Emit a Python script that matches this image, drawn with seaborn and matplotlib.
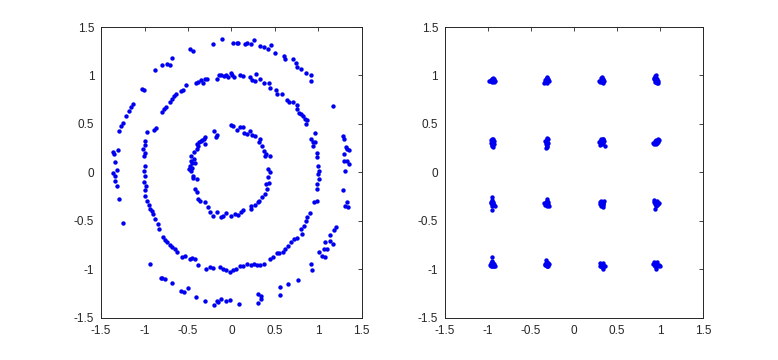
import matplotlib
matplotlib.use("Agg")
import matplotlib.pyplot as plt
import seaborn as sns
import pandas as pd

# ---------------- data: left panel (three noisy rings) ----------------
outer_x = [-0.11, -0.21, 0.02, 0.06, 0.08, 0.16, 0.18, 0.22, 0.26, 0.33, 0.37, 0.42, 0.46, 0.50,
           0.60, 0.62, 0.71, 0.74, 0.76, 0.80, 0.86, 0.91, 0.92, 1.165,
           1.28, 1.30, 1.32, 1.33, 1.35, 1.29, 1.30, 1.33, 1.35, 1.31,
           1.28, 1.33, 1.31, 1.34, 1.20, 1.18, 1.14, 1.17, 1.13, 1.08, 1.06, 1.10, 1.01, 1.04, 1.08,
           0.92, 0.93, 0.77, 0.65, 0.56, 0.56, 0.31, 0.34, 0.30, 0.34,
           0.085, -0.02, -0.06, -0.115, -0.15, -0.17, -0.20, -0.30,
           -0.41, -0.50, -0.55, -0.58, -0.69, -0.77, -0.80, -0.815, -0.94, -1.25,
           -1.29, -1.32, -1.335, -1.335, -1.365, -1.32, -1.34, -1.355, -1.36, -1.31,
           -1.29, -1.27, -1.25, -1.21, -1.18, -1.16, -1.13, -1.03, -1.01,
           -0.88, -0.80, -0.74, -0.71, -0.68, -0.48, -0.44]
outer_y = [1.375, 1.32, 1.33, 1.33, 1.34, 1.32, 1.34, 1.32, 1.365, 1.30, 1.29, 1.27, 1.31, 1.235,
           1.205, 1.17, 1.17, 1.13, 1.09, 1.07, 1.03, 1.01, 0.94, 0.69,
           0.375, 0.34, 0.26, 0.24, 0.23, 0.19, 0.12, 0.12, 0.085, 0.02,
           -0.18, -0.31, -0.35, -0.36, -0.56, -0.59, -0.65, -0.74, -0.71, -0.72, -0.785, -0.785, -0.82, -0.86, -0.87,
           -0.945, -1.01, -1.11, -1.15, -1.18, -1.26, -1.25, -1.27, -1.35, -1.31,
           -1.355, -1.32, -1.33, -1.31, -1.34, -1.33, -1.365, -1.33,
           -1.28, -1.19, -1.235, -1.22, -1.14, -1.10, -1.085, -1.085, -0.94, -0.52,
           -0.27, -0.14, -0.085, -0.035, -0.01, 0.03, 0.11, 0.19, 0.21, 0.23,
           0.43, 0.48, 0.51, 0.58, 0.63, 0.675, 0.71, 0.86, 0.85,
           1.06, 1.11, 1.12, 1.11, 1.18, 1.27, 1.25]

middle_x = [-0.17, -0.14, -0.115, -0.09, -0.06, -0.04, -0.01, 0.01, 0.03, 0.10, 0.13, 0.21, 0.235, 0.27,
            0.28, 0.33, 0.37, 0.43, 0.44, 0.51, 0.53, 0.58, 0.635, 0.665, 0.71, 0.75, 0.76, 0.78, 0.80,
            0.82, 0.85, 0.87, 0.86,
            0.96, 0.915, 0.935, 0.965, 0.94, 0.98, 0.99, 1.00, 1.01, 1.00, 1.01, 0.99, 0.98, 0.955, 0.98,
            0.90, 0.865, 0.86, 0.83, 0.80, 0.81, 0.76, 0.72, 0.69, 0.65, 0.62, 0.59, 0.55, 0.52, 0.48,
            0.44, 0.37, 0.33, 0.29, 0.26, 0.22, 0.18, 0.13, 0.10, 0.05, 0.02, -0.02, -0.06, -0.10,
            -0.135, -0.21, -0.25, -0.29, -0.385, -0.42, -0.45, -0.48, -0.53, -0.565, -0.63, -0.65,
            -0.68, -0.71, -0.74, -0.77, -0.79, -0.83, -0.85, -0.88, -0.90, -0.92, -0.94, -0.95, -0.97,
            -0.99, -1.00, -0.98, -1.01, -1.00, -1.01, -0.99, -1.01, -0.99, -1.02, -0.99, -1.00, -0.97,
            -0.865, -0.89, -0.80, -0.78, -0.75, -0.71, -0.69, -0.665, -0.635, -0.58, -0.56, -0.52,
            -0.41, -0.385, -0.35, -0.33, -0.30, -0.28]
middle_y = [0.965, 1.00, 1.005, 0.99, 1.01, 0.98, 1.025, 1.00, 0.98, 1.00, 0.99, 0.98, 0.955, 0.94,
            1.02, 0.96, 0.92, 0.92, 0.87, 0.85, 0.81, 0.81, 0.75, 0.73, 0.73, 0.70, 0.65, 0.61, 0.60,
            0.58, 0.55, 0.54, 0.495,
            0.41, 0.34, 0.31, 0.31, 0.27, 0.205, 0.155, 0.07, 0.02, -0.02, -0.07, -0.12, -0.17, -0.31, -0.29,
            -0.42, -0.46, -0.505, -0.55, -0.58, -0.64, -0.675, -0.69, -0.72, -0.76, -0.785, -0.82, -0.835, -0.83, -0.87,
            -0.89, -0.94, -0.955, -0.955, -0.94, -0.955, -0.945, -0.97, -0.97, -1.00, -1.005, -1.025, -1.005, -1.00,
            -0.98, -0.99, -0.98, -1.00, -0.955, -0.89, -0.88, -0.89, -0.86, -0.87, -0.82, -0.785,
            -0.77, -0.75, -0.72, -0.70, -0.665, -0.58, -0.53, -0.48, -0.43, -0.40, -0.375, -0.34, -0.29,
            -0.24, -0.18, -0.14, -0.10, -0.035, 0.02, 0.07, 0.165, 0.205, 0.24, 0.28, 0.32, 0.415,
            0.46, 0.44, 0.62, 0.65, 0.675, 0.73, 0.76, 0.785, 0.81, 0.835, 0.85, 0.90,
            0.92, 0.93, 0.955, 0.92, 0.96, 0.965]

inner_x = [-0.01, 0.02, 0.06, 0.10, 0.13, 0.14, 0.18, 0.21, 0.24, 0.27, 0.33, 0.315, 0.35, 0.37, 0.40,
           0.44, 0.385, 0.42, 0.44, 0.42, 0.435, 0.40, 0.41, 0.385, 0.35, 0.32, 0.31, 0.27, 0.22, 0.23,
           0.135, 0.11, 0.08, 0.04, -0.01, -0.06, -0.10, -0.125, -0.17, -0.21, -0.25, -0.27, -0.31,
           -0.365, -0.385, -0.40, -0.42, -0.40, -0.44, -0.46, -0.49, -0.48, -0.45, -0.42, -0.46, -0.435,
           -0.40, -0.40, -0.37, -0.35, -0.32, -0.30, -0.31, -0.20, -0.18, -0.165,
           -0.45, -0.47, -0.43, -0.44, -0.38, -0.34]
inner_y = [0.485, 0.48, 0.44, 0.47, 0.47, 0.41, 0.40, 0.43, 0.39, 0.375, 0.35, 0.31, 0.27, 0.22, 0.19,
           0.165, 0.17, 0.035, 0.0, -0.05, -0.11, -0.12, -0.17, -0.22, -0.255, -0.29, -0.31, -0.34, -0.375, -0.35,
           -0.39, -0.41, -0.44, -0.425, -0.445, -0.42, -0.45, -0.46, -0.41, -0.445, -0.41, -0.36, -0.30,
           -0.29, -0.27, -0.20, -0.17, -0.07, -0.035, 0.015, 0.035, 0.07, 0.095, 0.10, 0.17, 0.21,
           0.24, 0.29, 0.31, 0.325, 0.35, 0.365, 0.29, 0.43, 0.37, 0.39,
           0.05, 0.12, 0.14, -0.06, 0.27, 0.33]

# ---------------- data: right panel (16-QAM constellation) ----------------
qam_x = [
    # row y ~ 0.95
    -0.95, -0.94, -0.96, -0.93, -0.95, -0.94, -0.97, -0.92, -0.96, -0.99, -0.98, -0.93,
    -0.32, -0.33, -0.31, -0.30, -0.34, -0.32, -0.35, -0.29, -0.31, -0.33, -0.30, -0.34,
    0.32, 0.33, 0.31, 0.34, 0.32, 0.30, 0.35, 0.31, 0.33, 0.29, 0.34, 0.32,
    0.94, 0.93, 0.94, 0.95, 0.96, 0.97, 0.95, 0.93, 0.97, 0.94, 0.96, 0.95,
    # row y ~ 0.31
    -0.95, -0.96, -0.94, -0.95, -0.93, -0.97, -0.94, -0.96, -0.93, -0.95, -0.97, -0.94,
    -0.32, -0.31, -0.33, -0.31, -0.32, -0.33, -0.30, -0.34, -0.30, -0.32, -0.31, -0.33,
    0.32, 0.30, 0.34, 0.31, 0.33, 0.29, 0.35, 0.32, 0.30, 0.36, 0.34, 0.31,
    0.95, 0.94, 0.96, 0.97, 0.93, 0.95, 0.98, 0.96, 0.94, 0.92, 0.97, 0.95,
    # row y ~ -0.32
    -0.95, -0.96, -0.94, -0.95, -0.95, -0.97, -0.93, -0.96, -0.92, -0.95, -0.94, -0.97,
    -0.32, -0.33, -0.31, -0.32, -0.34, -0.30, -0.33, -0.29, -0.35, -0.31, -0.32, -0.30,
    0.32, 0.31, 0.33, 0.34, 0.30, 0.32, 0.31, 0.33, 0.35, 0.30, 0.33, 0.34,
    0.95, 0.96, 0.94, 0.97, 0.93, 0.94, 0.96, 0.95, 0.94, 0.98, 0.93, 0.96,
    # row y ~ -0.95
    -0.95, -0.96, -0.94, -0.97, -0.93, -0.95, -0.96, -0.94, -0.92, -0.98, -0.95, -0.95, -0.93, -0.97,
    -0.32, -0.31, -0.33, -0.30, -0.32, -0.34, -0.33, -0.31, -0.29, -0.34, -0.30, -0.32,
    0.32, 0.31, 0.33, 0.34, 0.30, 0.32, 0.35, 0.31, 0.33, 0.36, 0.30, 0.33,
    0.95, 0.94, 0.96, 0.93, 0.97, 0.94, 0.95, 0.98, 1.00, 0.92, 0.96, 0.94,
]
qam_y = [
    0.96, 0.95, 0.94, 0.96, 0.93, 0.97, 0.95, 0.94, 0.965, 0.94, 0.945, 0.93,
    0.96, 0.94, 0.97, 0.95, 0.955, 0.98, 0.92, 0.94, 0.92, 0.965, 0.96, 0.93,
    0.96, 0.94, 0.95, 0.95, 0.98, 0.93, 0.94, 0.97, 0.92, 0.945, 0.965, 0.93,
    0.99, 0.97, 0.95, 0.93, 0.92, 0.94, 1.00, 0.96, 0.92, 0.935, 0.96, 0.975,
    0.34, 0.32, 0.30, 0.28, 0.32, 0.30, 0.35, 0.27, 0.29, 0.31, 0.33, 0.26,
    0.35, 0.33, 0.31, 0.29, 0.27, 0.25, 0.34, 0.32, 0.30, 0.36, 0.26, 0.29,
    0.33, 0.32, 0.34, 0.35, 0.30, 0.31, 0.32, 0.29, 0.28, 0.27, 0.35, 0.30,
    0.31, 0.30, 0.32, 0.34, 0.29, 0.29, 0.33, 0.30, 0.32, 0.30, 0.31, 0.335,
    -0.31, -0.33, -0.32, -0.28, -0.25, -0.32, -0.34, -0.35, -0.35, -0.39, -0.30, -0.30,
    -0.31, -0.33, -0.29, -0.27, -0.34, -0.33, -0.30, -0.35, -0.32, -0.35, -0.34, -0.31,
    -0.31, -0.29, -0.30, -0.32, -0.33, -0.34, -0.35, -0.33, -0.29, -0.30, -0.36, -0.34,
    -0.32, -0.31, -0.33, -0.33, -0.28, -0.30, -0.34, -0.35, -0.38, -0.32, -0.31, -0.29,
    -0.95, -0.94, -0.96, -0.96, -0.94, -0.97, -0.92, -0.93, -0.96, -0.95, -0.87, -0.91, -0.97, -0.93,
    -0.95, -0.94, -0.93, -0.96, -0.97, -0.95, -0.90, -0.92, -0.94, -0.94, -0.93, -0.96,
    -0.95, -0.94, -0.96, -0.95, -0.93, -0.98, -0.97, -0.97, -0.93, -0.96, -0.96, -1.00,
    -0.93, -0.94, -0.95, -0.92, -0.96, -0.97, -1.00, -0.95, -0.97, -0.94, -0.92, -0.96,
]

ticks = [-1.5, -1, -0.5, 0, 0.5, 1, 1.5]
tick_labels = ["-1.5", "-1", "-0.5", "0", "0.5", "1", "1.5"]

# ---------------- plotting ----------------
sns.set_style("white")
plt.rcParams['font.family'] = ['Liberation Sans', 'DejaVu Sans']

left_df = pd.DataFrame({"x": outer_x + middle_x + inner_x,
                        "y": outer_y + middle_y + inner_y})
right_df = pd.DataFrame({"x": qam_x, "y": qam_y})

fig = plt.figure(figsize=(7.78, 3.6), dpi=100)
ax1 = fig.add_axes([0.130, 0.117, 0.335, 0.808])
ax2 = fig.add_axes([0.572, 0.117, 0.332, 0.808])

for ax, df in ((ax1, left_df), (ax2, right_df)):
    sns.scatterplot(data=df, x="x", y="y", ax=ax, color="#0000F0", s=10,
                    marker="o", linewidth=0, legend=False)
    ax.set_xlim(-1.5, 1.5)
    ax.set_ylim(-1.5, 1.5)
    ax.set_xticks(ticks)
    ax.set_yticks(ticks)
    ax.set_xticklabels(tick_labels)
    ax.set_yticklabels(tick_labels)
    ax.set_xlabel("")
    ax.set_ylabel("")
    ax.tick_params(direction="in", length=3, width=0.6, colors="#262626",
                   labelsize=8.5, top=True, right=True, pad=5)
    for sp in ax.spines.values():
        sp.set_visible(True)
        sp.set_color("#262626")
        sp.set_linewidth(0.7)

fig.savefig("out.png", dpi=100, facecolor="white")
